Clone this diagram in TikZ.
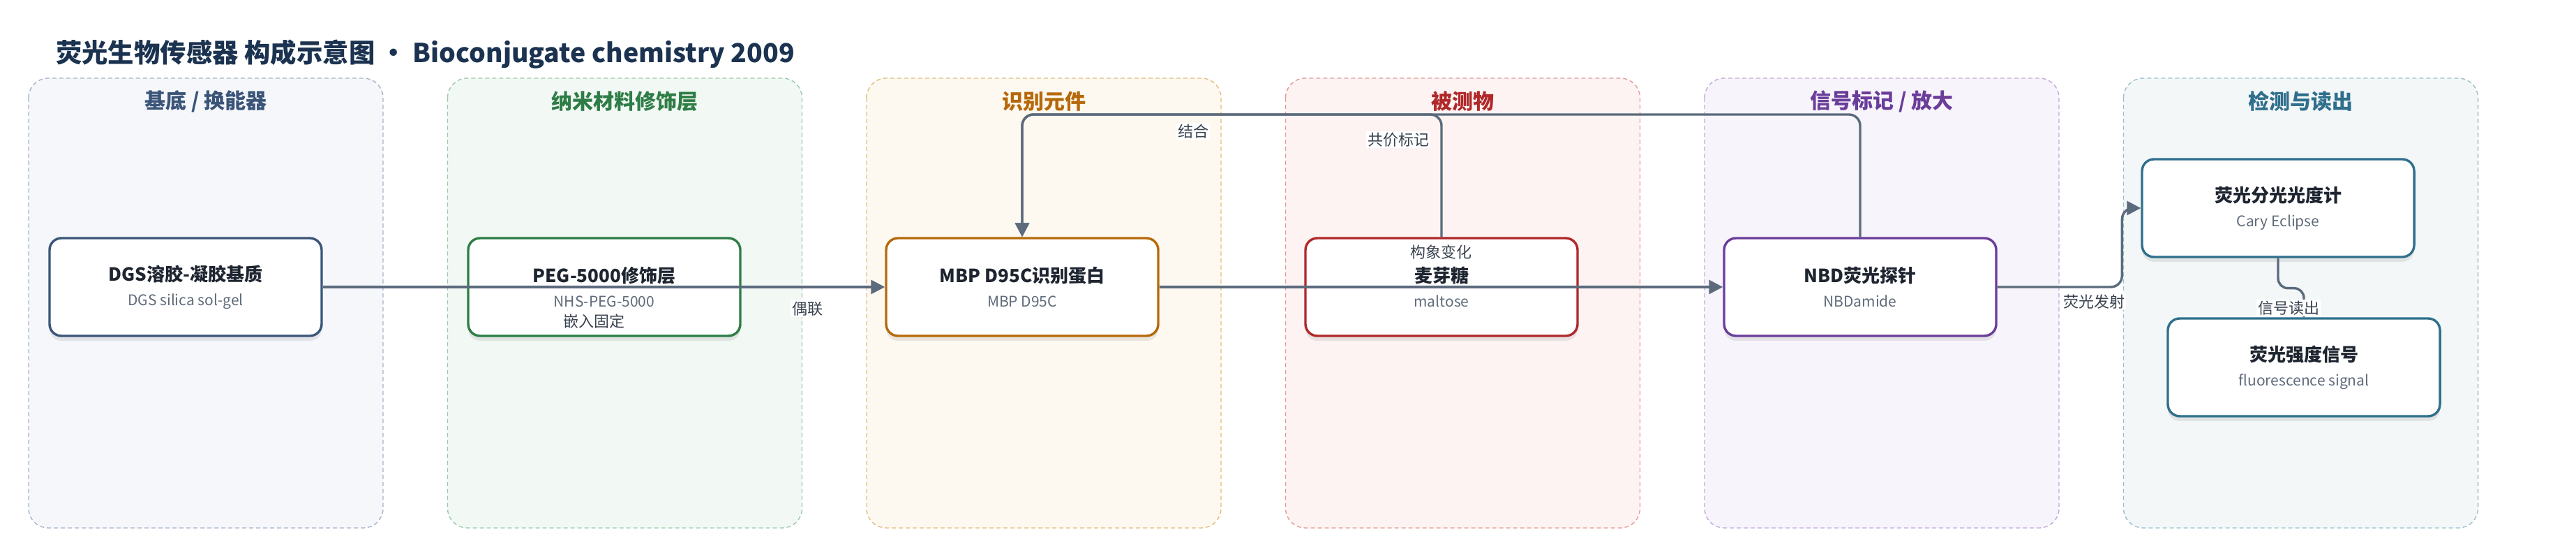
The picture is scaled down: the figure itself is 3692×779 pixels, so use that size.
\documentclass[tikz,border=0pt]{standalone}
\usepackage{fontspec}
\setmainfont{Noto Sans CJK SC}
\usetikzlibrary{arrows.meta,shadows,calc}

\definecolor{titlenavy}{HTML}{1B3350}
\definecolor{inkdark}{HTML}{1E2530}
\definecolor{notegray}{HTML}{5F6B7A}
\definecolor{edgegray}{HTML}{5B6B7D}
\definecolor{labelgray}{HTML}{3A4350}
% lane colours: title, fill, border
\definecolor{baseT}{HTML}{3B5578}\definecolor{baseF}{HTML}{F5F7FB}\definecolor{baseB}{HTML}{A7B4C8}
\definecolor{nanoT}{HTML}{2E7D46}\definecolor{nanoF}{HTML}{F2F8F4}\definecolor{nanoB}{HTML}{9CCAA9}
\definecolor{recT}{HTML}{B5690A}\definecolor{recF}{HTML}{FEF9F0}\definecolor{recB}{HTML}{E4BD80}
\definecolor{anaT}{HTML}{B0282A}\definecolor{anaF}{HTML}{FDF3F2}\definecolor{anaB}{HTML}{E39C98}
\definecolor{sigT}{HTML}{6A3D9A}\definecolor{sigF}{HTML}{F7F4FB}\definecolor{sigB}{HTML}{C3AADD}
\definecolor{detT}{HTML}{2F6F8C}\definecolor{detF}{HTML}{F3F7F8}\definecolor{detB}{HTML}{9DBFCC}

\newcommand{\boxtitle}[1]{{\bfseries\color{inkdark}#1}}
\newcommand{\boxnote}[1]{{\fontsize{10.5}{12}\selectfont\color{notegray}#1}}

\begin{document}
\begin{tikzpicture}[x=0.5pt, y=-0.5pt,
    lane/.style={draw=#1, line width=0.7pt, dash pattern=on 3pt off 2pt, rounded corners=14pt},
    box/.style={draw=#1, line width=1.7pt, fill=white, rounded corners=8.5pt,
      minimum width=195pt, minimum height=70pt, align=center,
      font=\fontsize{13}{17.5}\selectfont,
      drop shadow={shadow xshift=0pt, shadow yshift=-3.5pt, opacity=0.16}},
    flow/.style={draw=edgegray, line width=1.7pt, -{Triangle[length=10pt, width=10pt]}},
    tag/.style={fill=white, inner sep=1pt, text=labelgray, font=\fontsize{11}{13}\selectfont}]

  \useasboundingbox (0,0) rectangle (3692,779);

  \node [anchor=west, text=titlenavy, font=\fontsize{18.7}{22}\selectfont\bfseries] (title) at (73,78)
    {荧光生物传感器 构成示意图 · Bioconjugate chemistry 2009};

  % lanes
  \foreach \i/\name/\tc/\fc/\bc in {0/{基底 / 换能器}/baseT/baseF/baseB,
      1/纳米材料修饰层/nanoT/nanoF/nanoB, 2/识别元件/recT/recF/recB,
      3/被测物/anaT/anaF/anaB, 4/{信号标记 / 放大}/sigT/sigF/sigB,
      5/检测与读出/detT/detF/detB} {
    \filldraw [fill=\fc, lane=\bc] ({41+600.5*\i},112) rectangle ++(508,644);
    \node [text=\tc, font=\fontsize{15}{18}\selectfont\bfseries] at ({295+600.5*\i},145) {\name};
  }

  % nodes
  \node [box=baseT] (dgs) at (266,411) {\boxtitle{DGS溶胶-凝胶基质}\\\boxnote{DGS silica sol-gel}};
  \node [box=nanoT] (peg) at (866,411) {\boxtitle{PEG-5000修饰层}\\\boxnote{NHS-PEG-5000}};
  \node [box=recT] (mbp) at (1465,411) {\boxtitle{MBP D95C识别蛋白}\\\boxnote{MBP D95C}};
  \node [box=anaT] (maltose) at (2066,411) {\boxtitle{麦芽糖}\\\boxnote{maltose}};
  \node [box=sigT] (nbd) at (2666,411) {\boxtitle{NBD荧光探针}\\\boxnote{NBDamide}};
  \node [box=detT] (cary) at (3265,298) {\boxtitle{荧光分光光度计}\\\boxnote{Cary Eclipse}};
  \node [box=detT] (signal) at (3302,526) {\boxtitle{荧光强度信号}\\\boxnote{fluorescence signal}};

  \coordinate (bus) at (0,164);

  % connectors
  \draw [flow] (dgs.east) -- (mbp.west);
  \draw [flow] (mbp.east) -- (nbd.west) node [midway, above=18pt, tag, fill=none] {构象变化};
  \draw [flow, rounded corners=8pt] (maltose.north) |- (bus -| mbp.north) -- (mbp.north);
  \draw [flow, rounded corners=8pt] (nbd.north) |- (bus -| mbp.north) -- (mbp.north);
  \draw [flow, rounded corners=8pt] (nbd.east) -| ($(cary.west)+(-27,0)$) -- (cary.west);
  \draw [flow, -, rounded corners=7pt] (cary.south) -- ++(0,43) -| (signal.north);

  \node [tag] (tembed) at (851,460) {嵌入固定};
  \node [tag] (tcouple) at (1157,442) {偶联};
  \node [tag] (tbind) at (1710,188) {结合};
  \node [tag] (tlabel) at (2004,200) {共价标记};
  \node [tag] (temit) at (3001,432) {荧光发射};
  \node [tag] (tread) at (3280,441) {信号读出};
\end{tikzpicture}
\end{document}
